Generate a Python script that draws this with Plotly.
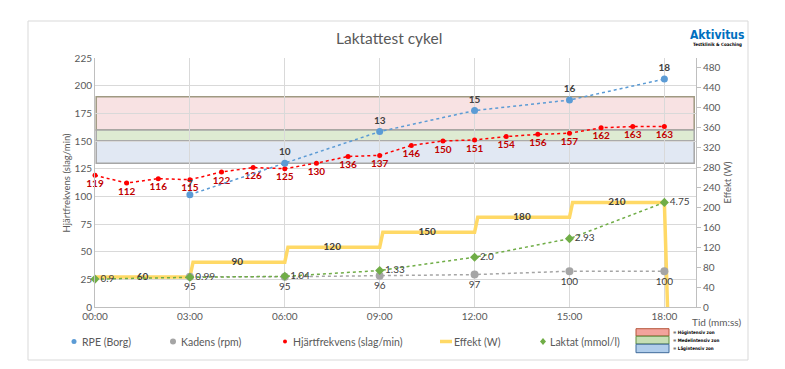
import plotly.graph_objects as go

# ---------------- data ----------------
minutes_hr = list(range(0, 19))
heart_rate = [119, 112, 116, 115, 122, 126, 125, 130, 136, 137, 146, 150, 151, 154, 156, 157, 162, 163, 163]

rpe_t = [3, 6, 9, 12, 15, 18]
rpe = [7, 10, 13, 15, 16, 18]

kadens_t = [3, 6, 9, 12, 15, 18]
kadens = [95, 95, 96, 97, 100, 100]

laktat_t = [0, 3, 6, 9, 12, 15, 18]
laktat = [0.9, 0.99, 1.04, 1.33, 2.0, 2.93, 4.75]
laktat_labels = ["0.9", "0.99", "1.04", "1.33", "2.0", "2.93", "4.75"]

effekt_t = [0, 3, 3.1, 6, 6.1, 9, 9.1, 12, 12.1, 15, 15.1, 18, 18.1]
effekt = [60, 60, 90, 90, 120, 120, 150, 150, 180, 180, 210, 210, 0]
effekt_label_t = [1.5, 4.5, 7.5, 10.5, 13.5, 16.5]
effekt_label_v = [60, 90, 120, 150, 180, 210]

x_tick_vals = [0, 3, 6, 9, 12, 15, 18]
x_tick_text = ["00:00", "03:00", "06:00", "09:00", "12:00", "15:00", "18:00"]

zone_names = ["Högintensiv zon", "Medelintensiv zon", "Lågintensiv zon"]
zone_low = [160, 150, 130]
zone_high = [190, 160, 150]

# ---------------- styling ----------------
FONT = "Lato, Liberation Sans, sans-serif"
TXT = "#595959"
DARK = "#404040"
W, H = 785, 369
L, R, T, B = 95, 89, 58, 62
PW, PH = W - L - R, H - T - B

def px(xp):
    return (xp - L) / PW

def py(yp):
    return (H - B - yp) / PH

fig = go.Figure()

# Heart rate (left axis)
fig.add_trace(go.Scatter(
    x=minutes_hr, y=heart_rate, mode="lines+markers+text", name="Hjärtfrekvens (slag/min)",
    line=dict(color="#FF0000", width=1.5, dash="dot"),
    marker=dict(color="#FF0000", size=5),
    text=[str(v) for v in heart_rate], textposition="bottom center",
    textfont=dict(family=FONT, size=10, color="#C00000", weight="bold"),
    cliponaxis=False, yaxis="y", showlegend=False))

# RPE (hidden axis)
fig.add_trace(go.Scatter(
    x=rpe_t, y=rpe, mode="lines+markers+text", name="RPE (Borg)",
    line=dict(color="#5B9BD5", width=1.5, dash="dot"),
    marker=dict(color="#5B9BD5", size=7),
    text=[str(v) for v in rpe], textposition="top center",
    textfont=dict(family=FONT, size=10, color=DARK, weight="bold"),
    cliponaxis=False, yaxis="y3", showlegend=False))

# Effekt (right axis)
fig.add_trace(go.Scatter(
    x=effekt_t, y=effekt, mode="lines", name="Effekt (W)",
    line=dict(color="#FFD966", width=3.5),
    yaxis="y2", showlegend=False))
fig.add_trace(go.Scatter(
    x=effekt_label_t, y=effekt_label_v, mode="text",
    text=[str(v) for v in effekt_label_v], textposition="middle center",
    textfont=dict(family=FONT, size=10, color=DARK, weight="bold"),
    cliponaxis=False, yaxis="y2", showlegend=False, hoverinfo="skip"))

# Kadens (hidden axis)
fig.add_trace(go.Scatter(
    x=kadens_t, y=kadens, mode="lines+markers+text", name="Kadens (rpm)",
    line=dict(color="#A5A5A5", width=1.5, dash="dot"),
    marker=dict(color="#A5A5A5", size=8),
    text=[str(v) for v in kadens], textposition="bottom center",
    textfont=dict(family=FONT, size=10, color=DARK),
    cliponaxis=False, yaxis="y4", showlegend=False))

# Laktat (hidden axis)
fig.add_trace(go.Scatter(
    x=laktat_t, y=laktat, mode="lines+markers+text", name="Laktat (mmol/l)",
    line=dict(color="#70AD47", width=1.5, dash="dot"),
    marker=dict(color="#70AD47", size=7, symbol="diamond"),
    text=laktat_labels, textposition="middle right",
    textfont=dict(family=FONT, size=10, color=DARK),
    cliponaxis=False, yaxis="y5", showlegend=False))

axis_common = dict(showline=True, linecolor="#BFBFBF", linewidth=1)

fig.update_layout(
    width=W, height=H, margin=dict(l=L, r=R, t=T, b=B),
    paper_bgcolor="white", plot_bgcolor="white",
    font=dict(family=FONT, color=TXT),
    showlegend=False,
    xaxis=dict(range=[0, 19], tickvals=x_tick_vals, ticktext=x_tick_text,
               showgrid=True, gridcolor="#D9D9D9", gridwidth=1, zeroline=False,
               tickfont=dict(size=10, color=TXT), ticks="", **axis_common),
    yaxis=dict(range=[0, 225], dtick=25, tick0=0, showgrid=True, gridcolor="#D9D9D9",
               zeroline=False, tickfont=dict(size=10, color=TXT), ticks="", **axis_common),
    yaxis2=dict(range=[0, 500], tickvals=list(range(0, 481, 40)), overlaying="y", side="right",
                showgrid=False, zeroline=False, ticks="outside", ticklen=4, tickcolor="#BFBFBF",
                tickfont=dict(size=10, color=TXT), **axis_common),
    yaxis3=dict(range=[-35 / 9.5, 20], overlaying="y", visible=False),
    yaxis4=dict(range=[67.7, 292.7], overlaying="y", visible=False),
    yaxis5=dict(range=[-0.5, 12], overlaying="y", visible=False),
)

# intensity zones in the plot
zone_fill = ["#F8E2E3", "#DEEBD2", "#E1E8F3"]
zone_line = ["#9F9982", "#A6A6A6", "#A6A6A6"]
for lo, hi, fc, lc in zip(zone_low, zone_high, zone_fill, zone_line):
    fig.add_shape(type="rect", xref="paper", yref="y", x0=0.002, x1=0.997, y0=lo, y1=hi,
                  fillcolor=fc, line=dict(color=lc, width=1.5), layer="below")

# chart border
fig.add_shape(type="rect", xref="paper", yref="paper", x0=px(28), x1=px(748), y0=py(360), y1=py(21),
              line=dict(color="#D9D9D9", width=1), layer="below")

ann = []

def add_text(text, x, y, size, color=TXT, family=FONT, xanchor="center", angle=0):
    ann.append(dict(text=text, x=px(x), y=py(y), xref="paper", yref="paper",
                    xanchor=xanchor, yanchor="middle", showarrow=False, textangle=angle,
                    font=dict(size=size, color=color, family=family)))

NARROW = "Liberation Sans Narrow, DejaVu Sans Condensed, sans-serif"
add_text("Laktattest cykel", 389, 38, 15.5)
add_text("<b>Aktivitus</b>", 717, 35, 12, color="#0070C0", family=NARROW)
add_text("<b>Testklinik & Coaching</b>", 717, 44.5, 4.5, color="#000000", family=NARROW)
add_text("Hjärtfrekvens (slag/min)", 66, 182.5, 9.5, angle=-90)
add_text("Effekt (W)", 727, 182.5, 9.5, angle=-90)
add_text("Tid (mm:ss)", 716, 322, 10)

# manual legend
LYP = 341.5
LY = py(LYP)
leg_items = [("RPE (Borg)", 74, 80, "circle", "#5B9BD5", 5),
             ("Kadens (rpm)", 173, 179, "circle", "#A5A5A5", 6),
             ("Hjärtfrekvens (slag/min)", 285, 291, "circle", "#FF0000", 4),
             ("Effekt (W)", 446, 452, "line", "#FFD966", 0),
             ("Laktat (mmol/l)", 543, 548, "diamond", "#70AD47", 5)]
for label, mx, tx, kind, col, s in leg_items:
    add_text(label, tx, LYP, 10.5, xanchor="left")
    if kind == "circle":
        fig.add_shape(type="circle", xref="paper", yref="paper", xsizemode="pixel", ysizemode="pixel",
                      xanchor=px(mx), yanchor=LY, x0=-s / 2, x1=s / 2, y0=-s / 2, y1=s / 2,
                      fillcolor=col, line=dict(width=0))
    elif kind == "line":
        fig.add_shape(type="line", xref="paper", yref="paper", x0=px(440), x1=px(452), y0=LY, y1=LY,
                      line=dict(color=col, width=3.5))
    else:
        fig.add_shape(type="path", xref="paper", yref="paper", xsizemode="pixel", ysizemode="pixel",
                      xanchor=px(mx), yanchor=LY, path="M 0 3.5 L 3 0 L 0 -3.5 L -3 0 Z",
                      fillcolor=col, line=dict(width=0))

# zone legend
z_fill = ["#F3A39C", "#C6DFB4", "#B0CDEB"]
z_line = ["#B5553A", "#5E8D3E", "#3F6A9A"]
z_top = [328.7, 336.2, 344.2]
z_bot = [336.0, 344.0, 352.7]
for name, f, lc, t0, b0 in zip(zone_names, z_fill, z_line, z_top, z_bot):
    fig.add_shape(type="rect", xref="paper", yref="paper", x0=px(636), x1=px(669), y0=py(b0), y1=py(t0),
                  fillcolor=f, line=dict(color=lc, width=1))
    add_text("<b>= " + name + "</b>", 671, (t0 + b0) / 2, 4.5, color="#000000", family=NARROW, xanchor="left")

fig.update_layout(annotations=ann)
fig.write_html("out.html", config={"displayModeBar": False},
               post_script="document.body.style.margin='0';document.body.style.overflow='hidden';")
